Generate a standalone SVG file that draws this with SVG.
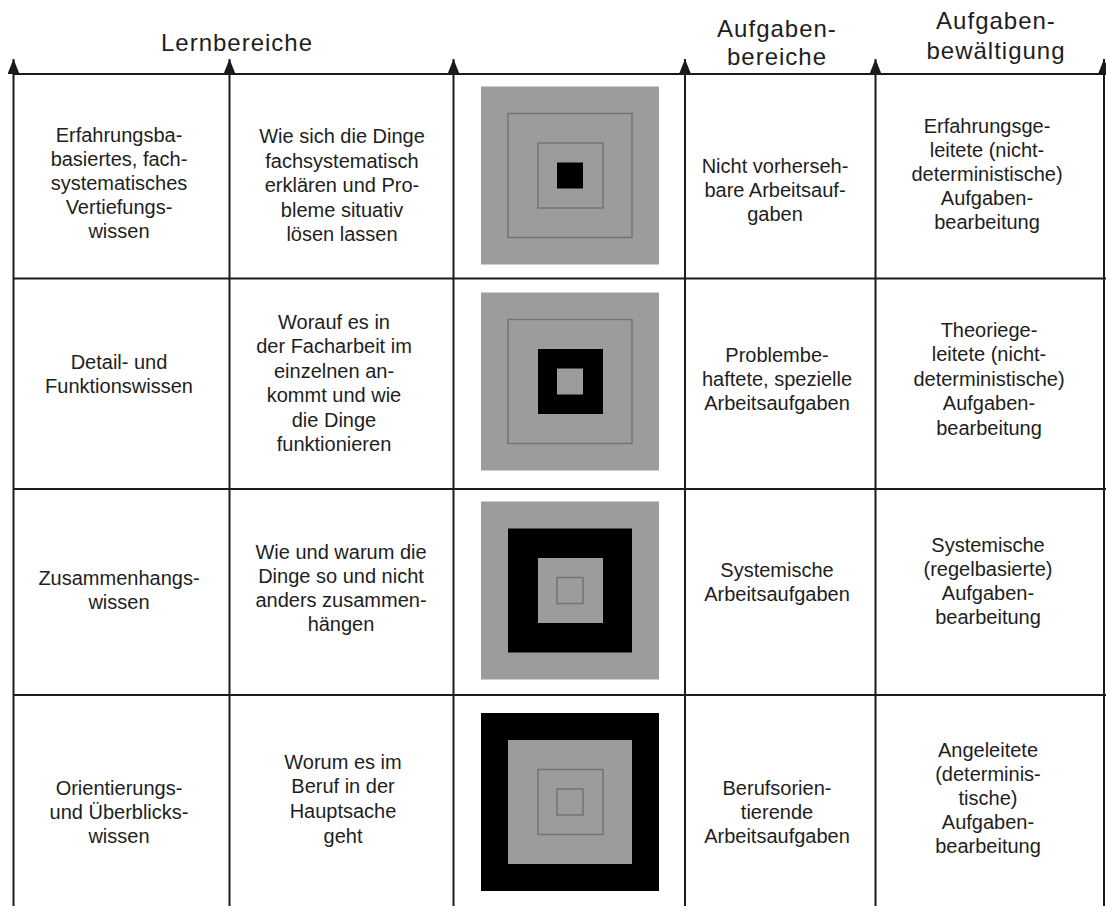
<svg xmlns="http://www.w3.org/2000/svg" width="1106" height="906" viewBox="0 0 1106 906">
<style>
.t{font-family:"Liberation Sans",Arial,sans-serif;font-size:20px;fill:#1e1e1e;text-anchor:middle}
.h{font-family:"Liberation Sans",Arial,sans-serif;font-size:24px;fill:#1e1e1e;text-anchor:middle;letter-spacing:1px}
.ln{stroke:#1a1a1a;stroke-width:2;fill:none}
.g{fill:#9c9c9c}
.k{fill:#000}
.o{fill:none;stroke:#747474;stroke-width:1.5}
</style>
<defs>
<marker id="arr" markerUnits="userSpaceOnUse" markerWidth="15" markerHeight="12" viewBox="0 0 15 12" refX="15" refY="6" orient="auto">
<path d="M0,0 L15,6 L0,12 z" fill="#1a1a1a"/>
</marker>
</defs>
<rect width="1106" height="906" fill="#fff"/>
<g id="connectors">
<line class="ln" x1="13.5" y1="74" x2="1106" y2="74"/>
<line class="ln" x1="13.5" y1="278.5" x2="1106" y2="278.5"/>
<line class="ln" x1="13.5" y1="489" x2="1106" y2="489"/>
<line class="ln" x1="13.5" y1="695" x2="1106" y2="695"/>
<line class="ln" x1="13.5" y1="906" x2="13.5" y2="59" marker-end="url(#arr)"/>
<line class="ln" x1="229.5" y1="906" x2="229.5" y2="59" marker-end="url(#arr)"/>
<line class="ln" x1="453.5" y1="906" x2="453.5" y2="59" marker-end="url(#arr)"/>
<line class="ln" x1="685" y1="906" x2="685" y2="59" marker-end="url(#arr)"/>
<line class="ln" x1="875.5" y1="906" x2="875.5" y2="59" marker-end="url(#arr)"/>
<line class="ln" x1="1104" y1="906" x2="1104" y2="59" marker-end="url(#arr)"/>
</g>
<g id="header-lernbereiche"><text class="h" x="237" y="51">Lernbereiche</text></g>
<g id="header-aufgabenbereiche"><text class="h" x="777" y="37">Aufgaben-</text><text class="h" x="777" y="65">bereiche</text></g>
<g id="header-aufgabenbewaeltigung"><text class="h" x="996" y="29">Aufgaben-</text><text class="h" x="996" y="59">bewältigung</text></g>

<g id="r1c1"><text class="t" x="119" y="142">Erfahrungsba-</text><text class="t" x="119" y="166">basiertes, fach-</text><text class="t" x="119" y="190">systematisches</text><text class="t" x="119" y="214">Vertiefungs-</text><text class="t" x="119" y="238">wissen</text></g>
<g id="r1c2"><text class="t" x="342" y="143">Wie sich die Dinge</text><text class="t" x="342" y="167.5">fachsystematisch</text><text class="t" x="342" y="192">erklären und Pro-</text><text class="t" x="342" y="216.5">bleme situativ</text><text class="t" x="342" y="241">lösen lassen</text></g>
<g id="r1c3"><rect class="g" x="481" y="86.5" width="178" height="178"/><rect class="o" x="508" y="113.5" width="124" height="124"/><rect class="o" x="538" y="143" width="65" height="65"/><rect class="k" x="557" y="162.5" width="26" height="26"/></g>
<g id="r1c4"><text class="t" x="775" y="173">Nicht vorherseh-</text><text class="t" x="775" y="197">bare Arbeitsauf-</text><text class="t" x="775" y="221">gaben</text></g>
<g id="r1c5"><text class="t" x="987" y="133">Erfahrungsge-</text><text class="t" x="987" y="157">leitete (nicht-</text><text class="t" x="987" y="181">deterministische)</text><text class="t" x="987" y="205">Aufgaben-</text><text class="t" x="987" y="229">bearbeitung</text></g>

<g id="r2c1"><text class="t" x="119" y="369">Detail- und</text><text class="t" x="119" y="393">Funktionswissen</text></g>
<g id="r2c2"><text class="t" x="334" y="329">Worauf es in</text><text class="t" x="334" y="353">der Facharbeit im</text><text class="t" x="334" y="377.5">einzelnen an-</text><text class="t" x="334" y="402">kommt und wie</text><text class="t" x="334" y="426.5">die Dinge</text><text class="t" x="334" y="451">funktionieren</text></g>
<g id="r2c3"><rect class="g" x="481" y="292.5" width="178" height="178"/><rect class="o" x="508" y="319.5" width="124" height="124"/><rect class="k" x="538" y="349" width="65" height="65"/><rect class="g" x="557" y="368.5" width="26" height="26"/></g>
<g id="r2c4"><text class="t" x="777" y="362">Problembe-</text><text class="t" x="777" y="386">haftete, spezielle</text><text class="t" x="777" y="410">Arbeitsaufgaben</text></g>
<g id="r2c5"><text class="t" x="989" y="337">Theoriege-</text><text class="t" x="989" y="361">leitete (nicht-</text><text class="t" x="989" y="386">deterministische)</text><text class="t" x="989" y="410">Aufgaben-</text><text class="t" x="989" y="435">bearbeitung</text></g>

<g id="r3c1"><text class="t" x="119" y="585">Zusammenhangs-</text><text class="t" x="119" y="609">wissen</text></g>
<g id="r3c2"><text class="t" x="341" y="559">Wie und warum die</text><text class="t" x="341" y="583">Dinge so und nicht</text><text class="t" x="341" y="607">anders zusammen-</text><text class="t" x="341" y="631">hängen</text></g>
<g id="r3c3"><rect class="g" x="481" y="501.5" width="178" height="178"/><rect class="k" x="508" y="528.5" width="124" height="124"/><rect class="g" x="538" y="558" width="65" height="65"/><rect class="o" x="557" y="577.5" width="26" height="26"/></g>
<g id="r3c4"><text class="t" x="777" y="577">Systemische</text><text class="t" x="777" y="601">Arbeitsaufgaben</text></g>
<g id="r3c5"><text class="t" x="988" y="552">Systemische</text><text class="t" x="988" y="576">(regelbasierte)</text><text class="t" x="988" y="600">Aufgaben-</text><text class="t" x="988" y="624">bearbeitung</text></g>

<g id="r4c1"><text class="t" x="119" y="795">Orientierungs-</text><text class="t" x="119" y="819">und Überblicks-</text><text class="t" x="119" y="843">wissen</text></g>
<g id="r4c2"><text class="t" x="343" y="769">Worum es im</text><text class="t" x="343" y="793">Beruf in der</text><text class="t" x="343" y="818">Hauptsache</text><text class="t" x="343" y="843">geht</text></g>
<g id="r4c3"><rect class="k" x="481" y="713" width="178" height="178"/><rect class="g" x="508" y="740" width="124" height="124"/><rect class="o" x="538" y="769.5" width="65" height="65"/><rect class="o" x="557" y="789" width="26" height="26"/></g>
<g id="r4c4"><text class="t" x="777" y="795">Berufsorien-</text><text class="t" x="777" y="819">tierende</text><text class="t" x="777" y="843">Arbeitsaufgaben</text></g>
<g id="r4c5"><text class="t" x="988" y="757">Angeleitete</text><text class="t" x="988" y="781">(determinis-</text><text class="t" x="988" y="805">tische)</text><text class="t" x="988" y="829">Aufgaben-</text><text class="t" x="988" y="853">bearbeitung</text></g>
</svg>
